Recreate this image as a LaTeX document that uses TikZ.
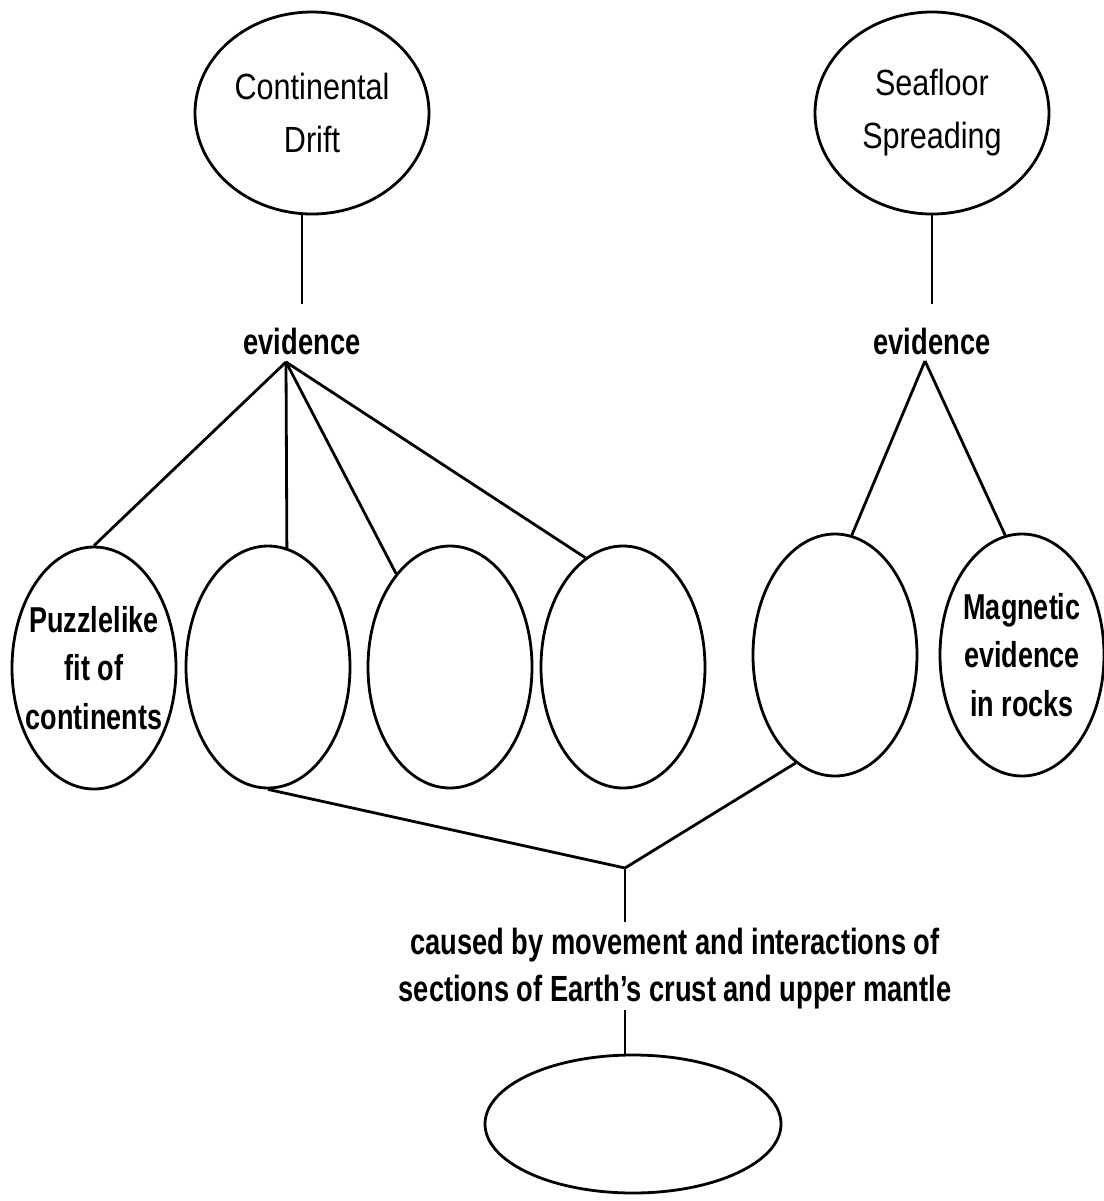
\documentclass[tikz,border=0pt]{standalone}
\usepackage{fontspec}
\setmainfont{Liberation Sans}[FakeStretch=0.84]
\newfontfamily\narrowbold{Liberation Sans}[FakeStretch=0.75]
\usetikzlibrary{shapes.geometric}

\begin{document}
\begin{tikzpicture}[
        x=0.5pt, y=-0.5pt,
        theory/.style={ellipse, draw, line width=1.4pt, inner sep=0pt,
                    minimum width=117pt, minimum height=101pt, align=center,
                    font=\fontsize{18.2}{26.5}\selectfont},
        proof/.style={ellipse, draw, line width=1.4pt, inner sep=0pt,
                    minimum width=82pt, minimum height=121pt},
        prooftext/.style={align=center, inner sep=0pt,
                    font=\narrowbold\bfseries\fontsize{18}{24.2}\selectfont},
        word/.style={inner sep=0pt, align=center,
                    font=\narrowbold\bfseries\fontsize{18.2}{23.5}\selectfont},
        link/.style={line width=1.4pt}
      ]
        \useasboundingbox (0,0) rectangle (1104,1201);
        % the two theories
        \node[theory] (drift) at (312,113) {Continental\\Drift};
        \node[theory] (spread) at (932,113) {Seafloor\\Spreading};
        \node[word] (evl) at (302,341) {evidence};
        \node[word] (evr) at (932,341) {evidence};
        \coordinate (lfork) at (286,362);
        \coordinate (rfork) at (925,361);
        % evidence ellipses
        \node[proof, label={[prooftext]center:Puzzlelike\\fit of\\continents}] (fit) at (94,668) {};
        \node[proof] (evb) at (268,667) {};
        \node[proof] (evc) at (450,667) {};
        \node[proof] (evd) at (623,667) {};
        \node[proof] (eve) at (835,655) {};
        \node[proof, label={[prooftext]center:Magnetic\\evidence\\in rocks}] (mag) at (1022,655) {};
        % cause and the last ellipse
        \coordinate (join) at (625,868);
        \node[word, anchor=north] (cause) at (675,928)
            {caused by movement and interactions of\\sections of Earth’s crust and upper mantle};
        \node[ellipse, draw, line width=1.4pt, inner sep=0pt,
              minimum width=148pt, minimum height=69pt] (plates) at (633,1124) {};

        \draw[link, shorten >=11.5pt] (drift.south -| evl.north) -- (evl.north);
        \draw[link, shorten >=11.5pt] (spread.south -| evr.north) -- (evr.north);
        \draw[link] (lfork) -- (fit.north);
        \draw[link] (lfork) -- (evb.81);
        \draw[link] (lfork) -- (evc.120);
        \draw[link] (lfork) -- (evd.109);
        \draw[link] (rfork) -- (eve.82);
        \draw[link] (rfork) -- (mag.98);
        \draw[link] (evb.south) -- (join) -- (eve.250);
        \draw[link, shorten >=3pt] (join) -- (join |- cause.north);
        \draw[link] (join |- cause.south) -- (plates.north -| join);
      \end{tikzpicture}
\end{document}
